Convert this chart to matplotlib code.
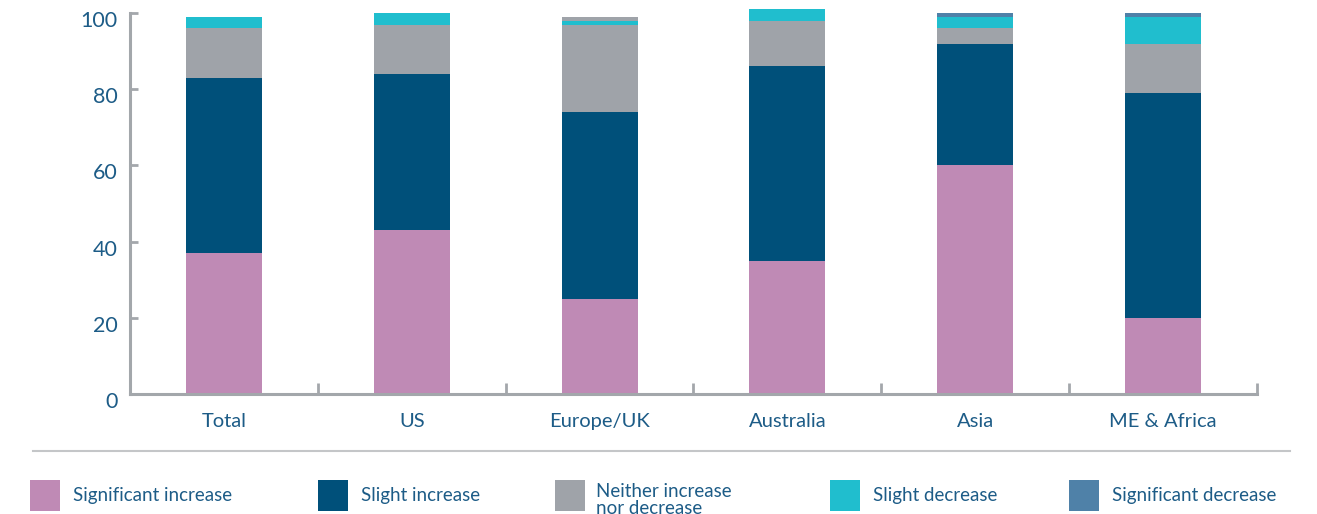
import matplotlib
matplotlib.use('Agg')
import matplotlib.pyplot as plt
import matplotlib.transforms as mtransforms
import numpy as np
from matplotlib.patches import Rectangle

# data
regions = ['Total', 'US', 'Europe/UK', 'Australia', 'Asia', 'ME & Africa']
significant_increase = [37, 43, 25, 35, 60, 20]
slight_increase = [46, 41, 49, 51, 32, 59]
neither = [13, 13, 23, 12, 4, 13]
slight_decrease = [3, 3, 1, 3, 3, 7]
significant_decrease = [0, 0, 0, 0, 1, 1]
unlabelled = [0, 0, 1, 0, 0, 0]  # small grey cap on Europe/UK

series = [
    ('Significant increase', significant_increase, '#bf8ab5'),
    ('Slight increase', slight_increase, '#00507a'),
    ('Neither increase\nnor decrease', neither, '#9fa3a9'),
    ('Slight decrease', slight_decrease, '#20bece'),
    ('Significant decrease', significant_decrease, '#4f81a8'),
]

text_color = '#1d5c87'
axis_color = '#a3a7ab'

plt.rcParams['font.family'] = ['Lato', 'DejaVu Sans']

fig = plt.figure(figsize=(13.17, 5.14), dpi=100)
ax = fig.add_axes([130 / 1317, 1 - 393.8 / 514, 1127 / 1317, 380.7 / 514])

x = np.arange(len(regions))
bottom = np.zeros(len(regions))
for label, vals, color in series:
    ax.bar(x, vals, 0.405, bottom=bottom, color=color, clip_on=False, zorder=2)
    bottom += np.array(vals)
ax.bar(x, unlabelled, 0.405, bottom=bottom, color='#9fa3a9', clip_on=False, zorder=2)

ax.set_xlim(-0.5, len(regions) - 0.5)
ax.set_ylim(0, 100)

for side in ['top', 'right']:
    ax.spines[side].set_visible(False)
for side in ['left', 'bottom']:
    ax.spines[side].set_color(axis_color)
    ax.spines[side].set_linewidth(2.2)

ax.set_yticks([0, 20, 40, 60, 80, 100])
ax.tick_params(axis='y', direction='in', length=6, width=2, color=axis_color,
               labelsize=15.5, labelcolor=text_color, pad=9)
# numbers sit a little below their ticks in the original
shift = mtransforms.ScaledTranslation(0, -6 / 100, fig.dpi_scale_trans)
for lbl in ax.get_yticklabels():
    lbl.set_transform(lbl.get_transform() + shift)

ax.set_xticks(x)
ax.set_xticklabels(regions)
ax.tick_params(axis='x', which='major', length=0, labelsize=14.5,
               labelcolor=text_color, pad=14)
ax.set_xticks(np.arange(len(regions) + 1) - 0.5, minor=True)
ax.tick_params(axis='x', which='minor', direction='in', length=8, width=2,
               color=axis_color)

# separator line
fig.add_artist(plt.Line2D([33 / 1317, 1290 / 1317], [1 - 451 / 514, 1 - 451 / 514],
                          color='#c4c6c8', linewidth=1.5))

# legend
legend_x = [30, 318, 555, 830, 1069]
for (label, vals, color), lx in zip(series, legend_x):
    fig.add_artist(Rectangle((lx / 1317, 1 - 511 / 514), 30 / 1317, 31 / 514,
                             facecolor=color, edgecolor='none'))
    if '\n' in label:
        fig.text((lx + 41) / 1317, 1 - 483 / 514, label, fontsize=13.5,
                 color=text_color, va='top', ha='left', linespacing=1.0)
    else:
        fig.text((lx + 43) / 1317, 1 - 496 / 514, label, fontsize=13.5,
                 color=text_color, va='center', ha='left')

fig.savefig('out.png', dpi=100)
